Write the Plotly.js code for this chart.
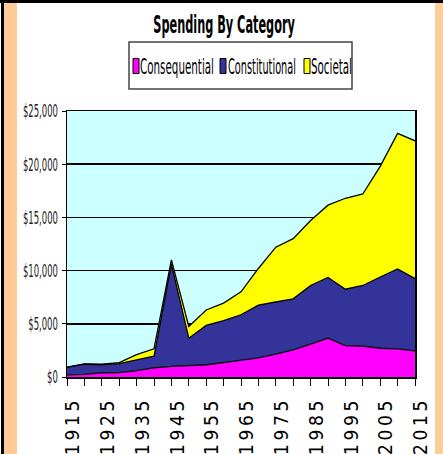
<!DOCTYPE html>
<html>
<head>
<meta charset="utf-8">
<script src="https://cdn.plot.ly/plotly-3.0.1.min.js"></script>
<style>
  html, body { margin: 0; padding: 0; background: #fff; width: 443px; height: 454px; overflow: hidden; }
  .decor { position: absolute; }
  #chart { position: absolute; left: 0; top: 0; width: 443px; height: 454px; }
  .xtick text { letter-spacing: 3.6px; }
</style>
</head>
<body>
<div class="decor" style="left:0;top:0;width:443px;height:3px;background:#000;"></div>
<div class="decor" style="left:1px;top:0;width:3px;height:454px;background:#000;"></div>
<div class="decor" style="left:4px;top:3px;width:13px;height:451px;background:#FFCC99;"></div>
<div class="decor" style="left:435px;top:3px;width:8px;height:451px;background:#FFCC99;"></div>
<div id="chart"></div>
<script>
// ---- data ----
const years = [1915, 1920, 1925, 1930, 1935, 1940, 1945, 1950, 1955, 1960, 1965,
               1970, 1975, 1980, 1985, 1990, 1995, 2000, 2005, 2010, 2015];
const consequential = [200, 250, 400, 420, 600, 850, 1000, 1050, 1150, 1350, 1550,
                       1800, 2150, 2550, 3100, 3650, 2950, 2900, 2700, 2650, 2450];
const constitutional = [700, 950, 750, 830, 1000, 1100, 9600, 2600, 3700, 3950, 4300,
                        4950, 4900, 4800, 5500, 5700, 5300, 5700, 6700, 7500, 6800];
const societal = [30, 30, 50, 100, 500, 700, 400, 1100, 1450, 1650, 2150,
                  3450, 5150, 5650, 6100, 6800, 8550, 8600, 10400, 12750, 12950];
const tickLabels = ['1915', '1925', '1935', '1945', '1955', '1965', '1975', '1985', '1995', '2005', '2015'];
const yTicks = [0, 5000, 10000, 15000, 20000, 25000];
const yTickLabels = ['$0', '$5,000', '$10,000', '$15,000', '$20,000', '$25,000'];
const seriesNames = ['Consequential', 'Constitutional', 'Societal'];
const seriesColors = ['#FF00FF', '#333399', '#FFFF00'];
const seriesValues = [consequential, constitutional, societal];
const chartTitle = 'Spending By Category';

// ---- geometry ----
const W = 443, H = 454, M = { l: 67, r: 28, t: 111, b: 77 };
const pw = W - M.l - M.r, ph = H - M.t - M.b;
const px2x = p => (p - M.l) / pw;
const px2y = p => 1 - (p - M.t) / ph;
const NARROW = '"Liberation Sans Narrow", "Arial Narrow", "DejaVu Sans Condensed", sans-serif';

const traces = seriesNames.map((n, i) => ({
  type: 'scatter', mode: 'lines', x: years, y: seriesValues[i], name: n,
  stackgroup: 'one', line: { color: '#000', width: 1.3 },
  fillcolor: seriesColors[i], hoverinfo: 'skip'
}));

// legend (manual, narrow swatches)
const swatchLeft = [133, 220, 304];
const textLeft = [138, 226, 309];
const shapes = [{
  type: 'rect', xref: 'paper', yref: 'paper',
  x0: px2x(129), x1: px2x(352), y0: px2y(89), y1: px2y(42),
  line: { color: '#444', width: 1.5 }, fillcolor: 'rgba(0,0,0,0)'
}];
const annotations = [];
seriesNames.forEach((n, i) => {
  shapes.push({
    type: 'rect', xref: 'paper', yref: 'paper',
    x0: px2x(swatchLeft[i]), x1: px2x(swatchLeft[i] + 6),
    y0: px2y(73.5), y1: px2y(58.5),
    line: { color: '#000', width: 1 }, fillcolor: seriesColors[i]
  });
  annotations.push({
    xref: 'paper', yref: 'paper', x: px2x(textLeft[i]), y: px2y(66.5),
    xanchor: 'left', yanchor: 'middle', showarrow: false, text: n,
    font: { family: NARROW, size: 22, color: '#000' }
  });
});

const layout = {
  width: W, height: H, margin: M,
  paper_bgcolor: 'rgba(0,0,0,0)', plot_bgcolor: '#CCFFFF',
  showlegend: false,
  title: {
    text: '<b>' + chartTitle + '</b>', x: 224 / W, xanchor: 'center',
    xref: 'container', yref: 'container', y: 1 - 24 / H, yanchor: 'middle',
    font: { family: NARROW, size: 25, color: '#000' }
  },
  xaxis: {
    type: 'linear', range: [years[0], years[years.length - 1]],
    tickvals: years,
    ticktext: years.map(y => tickLabels.includes(String(y)) ? String(y) : ''),
    tickangle: -90, ticks: 'outside', ticklen: 7, tickcolor: '#000', tickwidth: 1,
    tickfont: { family: NARROW, size: 19, color: '#000' },
    ticklabelshift: 6, ticklabelstandoff: 4,
    showline: true, linecolor: '#000', linewidth: 1.5, mirror: true,
    showgrid: false, zeroline: false, fixedrange: true
  },
  yaxis: {
    range: [0, 25000], tickvals: yTicks, ticktext: yTickLabels,
    ticks: 'outside', ticklen: 4, tickcolor: '#000',
    tickfont: { family: NARROW, size: 18, color: '#222' },
    showline: true, linecolor: '#000', linewidth: 1.5, mirror: true,
    showgrid: true, gridcolor: '#000', gridwidth: 1.5, zeroline: false, fixedrange: true
  },
  shapes: shapes, annotations: annotations
};

function squeeze(el, s, anchor) {
  const t = el.getAttribute('transform') || '';
  if (t.indexOf('scale(') >= 0) return;
  const bb = el.getBBox();
  if (!bb.width) return;
  const p = anchor === 'left' ? bb.x : anchor === 'right' ? bb.x + bb.width : bb.x + bb.width / 2;
  el.setAttribute('transform', (t + ' translate(' + p + ',0) scale(' + s + ',1) translate(' + (-p) + ',0)').trim());
}

function narrowTexts(gd) {
  const t = gd.querySelector('.gtitle');
  if (t && t.getBBox().width) squeeze(t, 142 / t.getBBox().width, 'center');
  const targets = [74, 68, 41];
  gd.querySelectorAll('.annotation-text').forEach((el, i) => {
    const w = el.getBBox().width;
    if (w) squeeze(el, targets[i] / w, 'left');
  });
  const yl = Array.from(gd.querySelectorAll('.yaxislayer-above text, .ytick text'));
  const top = yl.find(e => e.textContent.indexOf('25,000') >= 0);
  const w = top ? top.getBBox().width : 0;
  const s = w ? 35 / w : 0.62;
  yl.forEach(el => squeeze(el, s, 'right'));
}

Plotly.newPlot('chart', traces, layout, { staticPlot: true, responsive: false }).then(gd => {
  narrowTexts(gd);
  gd.on('plotly_afterplot', () => narrowTexts(gd));
  setTimeout(() => narrowTexts(gd), 50);
  setTimeout(() => narrowTexts(gd), 300);
});
</script>
</body>
</html>
